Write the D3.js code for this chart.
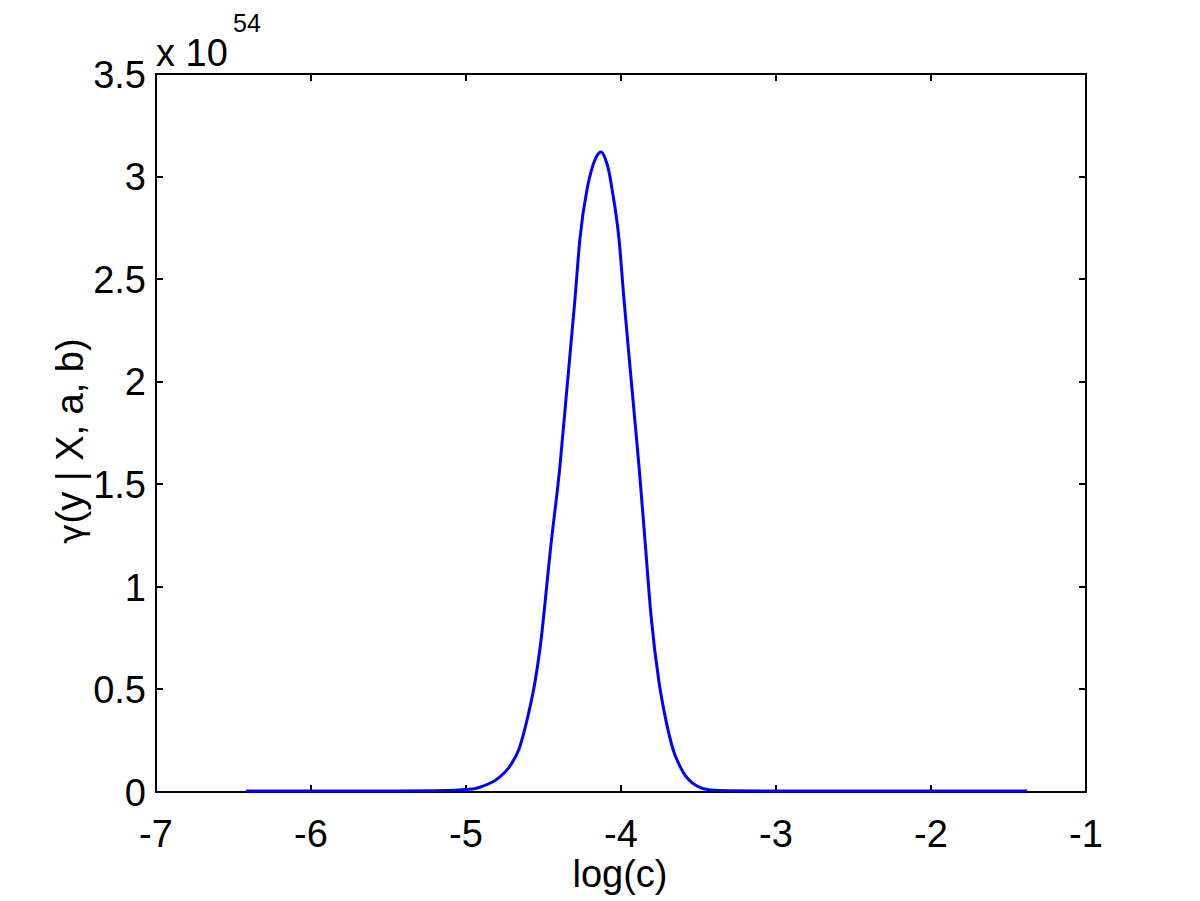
<!DOCTYPE html>
<html>
<head>
<meta charset="utf-8">
<script src="https://cdn.jsdelivr.net/npm/d3@7"></script>
<style>
  body { margin: 0; background: #fff; }
  text { font-family: "Liberation Sans", Arial, sans-serif; fill: #000; }
</style>
</head>
<body>
<div id="chart"></div>
<script>
// log(c) values and gamma(y | X, a, b) values (in units of 1e54)
var logC = [-6.42, -5.6, -5.2, -4.955, -4.89, -4.8, -4.716, -4.658, -4.6, -4.555, -4.523, -4.452,
    -4.394, -4.355, -4.297, -4.265, -4.219, -4.194, -4.16, -4.129, -4.10, -4.077, -4.058,
    -4.013, -3.981, -3.923, -3.884, -3.845, -3.806, -3.755, -3.716, -3.665, -3.6, -3.51,
    -3.426, -3.3, -2.5, -1.38];
var gamma = [0, 0, 0.001, 0.010, 0.024, 0.058, 0.122, 0.205, 0.366, 0.531, 0.692, 1.2,
    1.584, 1.91, 2.398, 2.691, 2.935, 3.017, 3.09, 3.115, 3.08, 3.017, 2.935,
    2.691, 2.398, 1.91, 1.584, 1.22, 0.853, 0.531, 0.366, 0.205, 0.093, 0.024,
    0.005, 0.001, 0, 0];

var xTicks = [-7, -6, -5, -4, -3, -2, -1];
var yTicks = [0, 0.5, 1, 1.5, 2, 2.5, 3, 3.5];

var svgWidth = 1200;
var svgHeight = 901;

// plot box
var boxLeft = 156, boxRight = 1086, boxTop = 74, boxBottom = 792;

var svg = d3.select('#chart')
    .append('svg')
    .attr('width', svgWidth)
    .attr('height', svgHeight);

var x = d3.scaleLinear().domain([-7, -1]).range([boxLeft, boxRight]);
var y = d3.scaleLinear().domain([0, 3.5]).range([boxBottom, boxTop]);

var tickLen = 7;

// box + ticks on all four sides (matlab style)
var axisG = svg.append('g')
    .attr('stroke', '#000')
    .attr('stroke-width', 2)
    .attr('shape-rendering', 'crispEdges');

axisG.append('rect')
    .attr('x', boxLeft)
    .attr('y', boxTop)
    .attr('width', boxRight - boxLeft)
    .attr('height', boxBottom - boxTop)
    .attr('fill', 'none');

xTicks.forEach(function(t) {
    axisG.append('line').attr('x1', x(t)).attr('x2', x(t)).attr('y1', boxBottom).attr('y2', boxBottom - tickLen);
    axisG.append('line').attr('x1', x(t)).attr('x2', x(t)).attr('y1', boxTop).attr('y2', boxTop + tickLen);
});
yTicks.forEach(function(t) {
    axisG.append('line').attr('x1', boxLeft).attr('x2', boxLeft + tickLen).attr('y1', y(t)).attr('y2', y(t));
    axisG.append('line').attr('x1', boxRight).attr('x2', boxRight - tickLen).attr('y1', y(t)).attr('y2', y(t));
});

// tick labels
svg.append('g').selectAll('text')
    .data(xTicks)
    .enter()
    .append('text')
    .attr('x', d => x(d))
    .attr('y', 847)
    .attr('text-anchor', 'middle')
    .style('font-size', '38px')
    .text(d => d);

svg.append('g').selectAll('text')
    .data(yTicks)
    .enter()
    .append('text')
    .attr('x', 146)
    .attr('y', d => y(d))
    .attr('dy', '0.36em')
    .attr('text-anchor', 'end')
    .style('font-size', '38px')
    .text(d => d);

// exponent label
svg.append('text')
    .attr('x', 156)
    .attr('y', 66)
    .style('font-size', '38px')
    .text('x 10');
svg.append('text')
    .attr('x', 233)
    .attr('y', 32)
    .style('font-size', '25px')
    .text('54');

// axis labels
svg.append('text')
    .attr('x', 620)
    .attr('y', 887)
    .attr('text-anchor', 'middle')
    .style('font-size', '38px')
    .text('log(c)');

var yLabel = svg.append('text')
    .attr('transform', 'translate(83,' + ((boxTop + boxBottom) / 2 + 8) + ') rotate(-90)')
    .attr('text-anchor', 'middle')
    .style('font-size', '38px');
yLabel.append('tspan')
    .style('font-family', '"DejaVu Sans"')
    .style('font-size', '34px')
    .text('γ');
yLabel.append('tspan')
    .text('(y | X, a, b)');

// the curve
var pts = logC.map((d, i) => [d, gamma[i]]);
var line = d3.line()
    .x(d => x(d[0]))
    .y(d => y(d[1]) - 1)
    .curve(d3.curveMonotoneX);

svg.append('path')
    .datum(pts)
    .attr('d', line)
    .attr('fill', 'none')
    .attr('stroke', '#0000ff')
    .attr('stroke-width', 3);
</script>
</body>
</html>
